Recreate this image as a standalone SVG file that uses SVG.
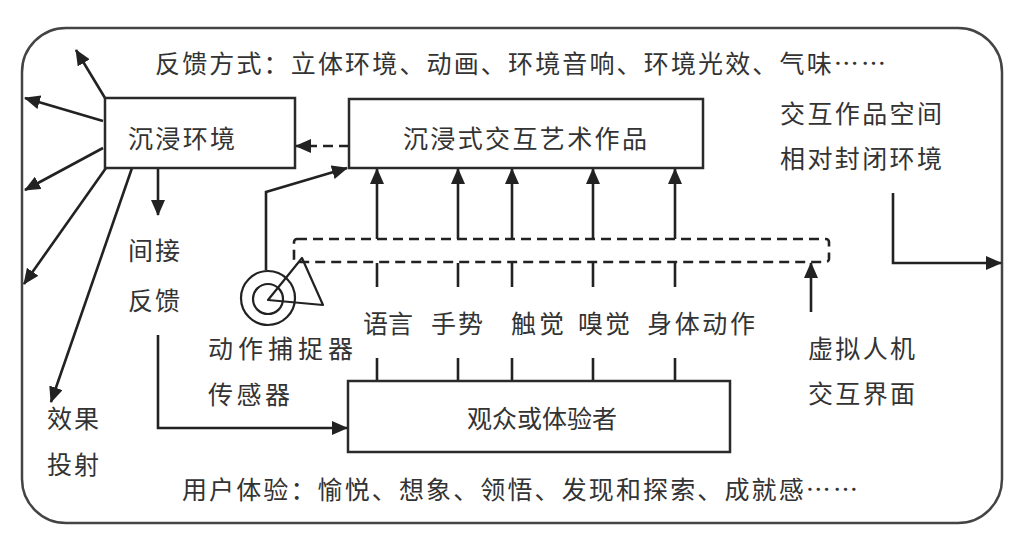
<svg xmlns="http://www.w3.org/2000/svg" width="1025" height="548" viewBox="0 0 1025 548">
<style>
text{font-family:"Noto Sans CJK SC","Noto Sans CJK TC",sans-serif;font-size:25px;fill:#333;dominant-baseline:central}
.mid{text-anchor:middle}
.box{fill:#fff;stroke:#2a2a2a;stroke-width:2.5}
.ln{fill:none;stroke:#222;stroke-width:2.6}
.ar{marker-end:url(#ah)}
.dash{stroke-dasharray:10 6}
</style>
<defs>
<marker id="ah" markerUnits="userSpaceOnUse" markerWidth="16" markerHeight="14" refX="15" refY="7" orient="auto">
<path d="M0,0 L16,7 L0,14 Z" fill="#222"/>
</marker>
</defs>
<rect width="1025" height="548" fill="#fff"/>
<rect id="frame" x="22" y="28" width="980" height="495" rx="44" ry="44" fill="none" stroke="#444" stroke-width="2.5"/>

<g id="connectors">
<line class="ln ar dash" x1="349" y1="146" x2="296" y2="146"/>
<line class="ln ar" x1="105" y1="98" x2="76" y2="50"/>
<line class="ln ar" x1="103" y1="121" x2="25" y2="98"/>
<line class="ln ar" x1="103" y1="148" x2="25" y2="190"/>
<line class="ln ar" x1="106" y1="168" x2="24" y2="284"/>
<line class="ln ar" x1="132" y1="168" x2="51" y2="402"/>
<line class="ln ar" x1="158" y1="168" x2="158" y2="215"/>
<polyline class="ln ar" points="158,335 158,428 347,428"/>
<polyline class="ln ar" points="266,270 266,192 347,168"/>
<line class="ln ar" x1="377" y1="239" x2="377" y2="169"/>
<line class="ln ar" x1="458" y1="239" x2="458" y2="169"/>
<line class="ln ar" x1="512" y1="239" x2="512" y2="169"/>
<line class="ln ar" x1="593" y1="239" x2="593" y2="169"/>
<line class="ln ar" x1="675" y1="239" x2="675" y2="169"/>
<path class="ln" d="M377,263V287M458,263V287M512,263V287M593,263V287M675,263V287M377,358V381M458,358V381M512,358V381M593,358V381M675,358V381"/>
<polyline class="ln ar" points="893,193 893,263 1001,263"/>
<line class="ln ar" x1="811" y1="312" x2="811" y2="263"/>
<rect class="ln dash" x="294" y="239" width="535" height="23" rx="3"/>
</g>

<g id="node-env">
<rect class="box" x="105" y="98" width="190" height="70"/>
<text x="128" y="137" font-size="26" textLength="107" lengthAdjust="spacing">沉浸环境</text>
</g>
<g id="node-art">
<rect class="box" x="349" y="99" width="354" height="69"/>
<text x="525" y="137" class="mid" textLength="244" lengthAdjust="spacing">沉浸式交互艺术作品</text>
</g>
<g id="node-user">
<rect class="box" x="348" y="381" width="382" height="71"/>
<text x="542" y="417" class="mid" textLength="150" lengthAdjust="spacing">观众或体验者</text>
</g>
<g id="node-sensor">
<circle cx="268" cy="298" r="27" fill="#fff" stroke="#222" stroke-width="2.2"/>
<circle cx="268" cy="299" r="15" fill="none" stroke="#222" stroke-width="2.2"/>
<polygon points="268,300 302,258 323,305" fill="none" stroke="#222" stroke-width="2.2" stroke-linejoin="round"/>
<text x="208" y="347" textLength="145" lengthAdjust="spacing">动作捕捉器</text>
<text x="208" y="393" textLength="82" lengthAdjust="spacing">传感器</text>
</g>

<g id="labels">
<text x="155" y="62" textLength="731" lengthAdjust="spacing">反馈方式：立体环境、动画、环境音响、环境光效、气味……</text>
<text x="182" y="488" textLength="676" lengthAdjust="spacing">用户体验：愉悦、想象、领悟、发现和探索、成就感……</text>
<text x="128" y="249" textLength="52" lengthAdjust="spacing">间接</text>
<text x="128" y="299" textLength="52" lengthAdjust="spacing">反馈</text>
<text x="47" y="417" textLength="52" lengthAdjust="spacing">效果</text>
<text x="47" y="463" textLength="52" lengthAdjust="spacing">投射</text>
<text x="363" y="322" textLength="50" lengthAdjust="spacing">语言</text>
<text x="431" y="322" textLength="52" lengthAdjust="spacing">手势</text>
<text x="511" y="322" textLength="53" lengthAdjust="spacing">触觉</text>
<text x="578" y="322" textLength="52" lengthAdjust="spacing">嗅觉</text>
<text x="647" y="322" textLength="108" lengthAdjust="spacing">身体动作</text>
<text x="780" y="112" textLength="162" lengthAdjust="spacing">交互作品空间</text>
<text x="780" y="157" textLength="162" lengthAdjust="spacing">相对封闭环境</text>
<text x="808" y="347" textLength="107" lengthAdjust="spacing">虚拟人机</text>
<text x="808" y="392" textLength="107" lengthAdjust="spacing">交互界面</text>
</g>
</svg>
